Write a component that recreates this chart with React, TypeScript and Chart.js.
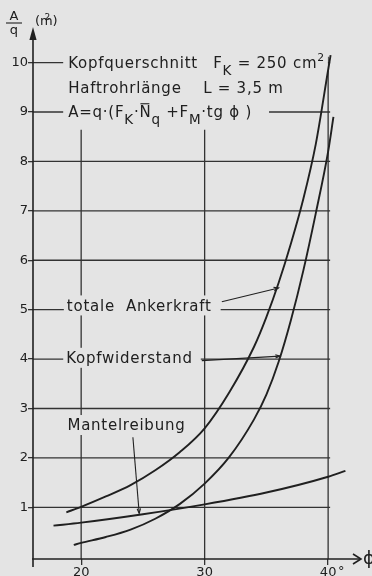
import React, { useEffect, useRef } from "react";
import { Chart, registerables } from "chart.js";

Chart.register(...registerables);

// ---------------- data ----------------
const totalPhi = [18.8, 20, 22, 24, 26, 28, 30, 32, 34, 35, 36, 37, 38, 39, 40, 40.2];
const totalA = [0.9, 1.01, 1.22, 1.45, 1.75, 2.12, 2.6, 3.33, 4.25, 4.85, 5.55, 6.35, 7.25, 8.35, 9.85, 10.15];

const kopfPhi = [19.4, 20, 22, 24, 26, 28, 30, 32, 34, 35, 36, 37, 38, 39, 40, 40.43];
const kopfA = [0.24, 0.28, 0.4, 0.55, 0.77, 1.07, 1.48, 2.02, 2.78, 3.28, 3.95, 4.8, 5.8, 6.95, 8.2, 8.9];

const mantelPhi = [17.76, 20, 25, 30, 35, 40, 41.4];
const mantelA = [0.63, 0.69, 0.86, 1.06, 1.3, 1.62, 1.74];

const xTickValues = [20, 30, 40];
const xTickLabels = ["20", "30", "40"];
const yTickValues = [1, 2, 3, 4, 5, 6, 7, 8, 9, 10];
const yTickLabels = ["1", "2", "3", "4", "5", "6", "7", "8", "9", "10"];

// vertical grid lines: where they stop (value on A/q axis)
const vGridTop = [8.64, 8.64, 10.12];

// ---------------- style ----------------
const BG = "#e4e4e4";
const INK = "#202020";
const GRID = "#333333";
const FONT = '"DejaVu Sans", sans-serif';
const TS = 15; // annotation text size
const LS = 0.75; // letter spacing

type Seg = { t: string; m?: "sub" | "sup" | "bar" };
type Part = { x: number; segs: Seg[] };
type Label = { parts: Part[]; y: number; padL: number; padR: number };

const labels: Label[] = [
  {
    parts: [
      { x: 18.95, segs: [{ t: "Kopfquerschnitt" }] },
      { x: 30.69, segs: [{ t: "F" }, { t: "K", m: "sub" }, { t: " = 250 cm" }, { t: "2", m: "sup" }] },
    ],
    y: 9.885, padL: 5, padR: 3,
  },
  {
    parts: [
      { x: 18.95, segs: [{ t: "Haftrohrlänge" }] },
      { x: 29.88, segs: [{ t: "L = 3,5 m" }] },
    ],
    y: 9.39, padL: 5, padR: 3,
  },
  {
    parts: [
      {
        x: 18.95,
        segs: [
          { t: "A=q·(F" }, { t: "K", m: "sub" }, { t: "·" }, { t: "N", m: "bar" },
          { t: "q", m: "sub" }, { t: " +F" }, { t: "M", m: "sub" }, { t: "·tg ϕ )" },
        ],
      },
    ],
    y: 8.9, padL: 5, padR: 17,
  },
  { parts: [{ x: 18.84, segs: [{ t: "totale  Ankerkraft" }] }], y: 4.98, padL: 3, padR: 9 },
  { parts: [{ x: 18.79, segs: [{ t: "Kopfwiderstand" }] }], y: 3.92, padL: 3, padR: 8 },
  { parts: [{ x: 18.89, segs: [{ t: "Mantelreibung" }] }], y: 2.56, padL: 3, padR: 4 },
];

// leader lines [x1, y1, x2, y2] in data units
const leaders = [
  [31.39, 5.16, 35.98, 5.44],
  [29.77, 3.97, 36.11, 4.06],
  [24.19, 2.42, 24.7, 0.88],
];

function drawRich(ctx: CanvasRenderingContext2D, segs: Seg[], x: number, y: number, draw: boolean) {
  let cx = x;
  for (const s of segs) {
    const fs = s.m === "sup" ? TS * 0.72 : s.m === "sub" ? TS * 0.9 : TS;
    ctx.font = `${fs}px ${FONT}`;
    (ctx as any).letterSpacing = `${LS}px`;
    const dy = s.m === "sub" ? TS * 0.45 : s.m === "sup" ? -TS * 0.5 : 0;
    const w = ctx.measureText(s.t).width;
    if (draw) {
      ctx.fillText(s.t, cx, y + dy);
      if (s.m === "bar") {
        ctx.beginPath();
        ctx.lineWidth = 1.1;
        ctx.moveTo(cx + 1, y - TS * 0.88);
        ctx.lineTo(cx + w - 2, y - TS * 0.88);
        ctx.stroke();
      }
    }
    cx += w;
  }
  return cx;
}

function arrowLine(ctx: CanvasRenderingContext2D, x1: number, y1: number, x2: number, y2: number) {
  ctx.beginPath();
  ctx.moveTo(x1, y1);
  ctx.lineTo(x2, y2);
  ctx.stroke();
  const a = Math.atan2(y2 - y1, x2 - x1);
  const L = 5;
  ctx.beginPath();
  ctx.moveTo(x2 - L * Math.cos(a - 0.35), y2 - L * Math.sin(a - 0.35));
  ctx.lineTo(x2, y2);
  ctx.lineTo(x2 - L * Math.cos(a + 0.35), y2 - L * Math.sin(a + 0.35));
  ctx.stroke();
}

const inkPlugin = {
  id: "ink",
  beforeDraw(chart: any) {
    const ctx = chart.ctx as CanvasRenderingContext2D;
    ctx.save();
    ctx.fillStyle = BG;
    ctx.fillRect(0, 0, chart.width, chart.height);
    ctx.restore();
  },
  beforeDatasetsDraw(chart: any) {
    const ctx = chart.ctx as CanvasRenderingContext2D;
    const xs = chart.scales.x;
    const ys = chart.scales.y;
    const X = (v: number) => xs.getPixelForValue(v);
    const Y = (v: number) => ys.getPixelForValue(v);
    const left = chart.chartArea.left;
    const bottom = chart.chartArea.bottom;
    ctx.save();
    ctx.strokeStyle = GRID;
    ctx.lineWidth = 1.3;
    // horizontal grid
    for (const v of yTickValues) {
      ctx.beginPath();
      ctx.moveTo(left, Y(v));
      ctx.lineTo(X(40) + 2, Y(v));
      ctx.stroke();
    }
    // vertical grid
    xTickValues.forEach((v, i) => {
      ctx.beginPath();
      ctx.moveTo(X(v), bottom);
      ctx.lineTo(X(v), Y(vGridTop[i]));
      ctx.stroke();
    });
    // axes
    ctx.strokeStyle = INK;
    ctx.fillStyle = INK;
    ctx.lineWidth = 1.6;
    ctx.beginPath();
    ctx.moveTo(left, bottom + 8);
    ctx.lineTo(left, chart.chartArea.top + 10);
    ctx.stroke();
    ctx.beginPath();
    ctx.moveTo(left, chart.chartArea.top - 1);
    ctx.lineTo(left - 3.6, chart.chartArea.top + 12);
    ctx.lineTo(left + 3.6, chart.chartArea.top + 12);
    ctx.closePath();
    ctx.fill();
    const xr = chart.chartArea.right + 2;
    ctx.beginPath();
    ctx.moveTo(left - 1, bottom);
    ctx.lineTo(xr, bottom);
    ctx.stroke();
    ctx.beginPath();
    ctx.moveTo(xr - 8, bottom - 5);
    ctx.lineTo(xr, bottom);
    ctx.lineTo(xr - 8, bottom + 5);
    ctx.stroke();

    // annotation labels
    ctx.textBaseline = "alphabetic";
    ctx.textAlign = "left";
    for (const lab of labels) {
      const by = Y(lab.y);
      let minX = Infinity;
      let maxX = -Infinity;
      for (const p of lab.parts) {
        const sx = X(p.x);
        const ex = drawRich(ctx, p.segs, sx, by, false);
        minX = Math.min(minX, sx);
        maxX = Math.max(maxX, ex);
      }
      ctx.fillStyle = BG;
      ctx.fillRect(minX - lab.padL, by - TS * 0.95 - 1, maxX - minX + lab.padL + lab.padR, TS * 1.2 + 2);
      ctx.fillStyle = INK;
      ctx.strokeStyle = INK;
      for (const p of lab.parts) drawRich(ctx, p.segs, X(p.x), by, true);
    }
    // leaders
    ctx.strokeStyle = INK;
    ctx.lineWidth = 1.1;
    for (const l of leaders) arrowLine(ctx, X(l[0]), Y(l[1]), X(l[2]), Y(l[3]));

    // degree sign after 40
    (ctx as any).letterSpacing = "0px";
    ctx.font = `13px ${FONT}`;
    ctx.fillStyle = INK;
    const w40 = ctx.measureText(xTickLabels[2]).width;
    ctx.textBaseline = "top";
    ctx.fillText("°", X(40) + w40 / 2 + 1.5, bottom + 6);
    // phi at the end of the x axis
    ctx.font = `18px ${FONT}`;
    ctx.textBaseline = "middle";
    ctx.fillText("ϕ", xr + 2, bottom);
    // y axis title A/q (m²)
    ctx.textBaseline = "alphabetic";
    ctx.textAlign = "center";
    ctx.font = `13px ${FONT}`;
    ctx.fillText("A", 14, 20);
    ctx.fillText("q", 14, 34);
    ctx.lineWidth = 1.1;
    ctx.beginPath();
    ctx.moveTo(6, 23);
    ctx.lineTo(22, 23);
    ctx.stroke();
    ctx.textAlign = "left";
    ctx.fillText("(m", 35, 25);
    ctx.fillText(")", 52.5, 25);
    ctx.font = `9px ${FONT}`;
    ctx.fillText("2", 44.5, 19.5);
    ctx.restore();
  },
};

export default function App() {
  const ref = useRef<HTMLCanvasElement | null>(null);
  useEffect(() => {
    if (!ref.current) return;
    const mk = (xs: number[], ys: number[]) => xs.map((x, i) => ({ x, y: ys[i] }));
    const line = (label: string, data: any[]) => ({
      label,
      data,
      borderColor: INK,
      borderWidth: 1.9,
      pointRadius: 0,
      fill: false,
      cubicInterpolationMode: "monotone" as const,
    });
    const chart = new Chart(ref.current, {
      type: "line",
      data: {
        datasets: [
          line("totale Ankerkraft", mk(totalPhi, totalA)),
          line("Kopfwiderstand", mk(kopfPhi, kopfA)),
          line("Mantelreibung", mk(mantelPhi, mantelA)),
        ],
      },
      options: {
        animation: false,
        responsive: false,
        devicePixelRatio: 1,
        layout: { padding: { left: 0, right: 13, top: 28, bottom: 0 } },
        plugins: { legend: { display: false }, tooltip: { enabled: false } },
        scales: {
          x: {
            type: "linear",
            min: 16.1,
            max: 42.5,
            afterBuildTicks: (s: any) => {
              s.ticks = xTickValues.map((v) => ({ value: v }));
            },
            afterFit: (s: any) => {
              s.height = 17;
            },
            ticks: {
              autoSkip: false,
              maxRotation: 0,
              padding: 0,
              color: INK,
              font: { family: FONT, size: 13 },
              callback: (v: any) => xTickLabels[xTickValues.indexOf(Number(v))] ?? "",
            },
            grid: { drawOnChartArea: false, drawTicks: true, tickLength: 6, color: GRID, lineWidth: 1.3 },
            border: { display: false },
          },
          y: {
            type: "linear",
            min: -0.045,
            max: 10.7,
            afterBuildTicks: (s: any) => {
              s.ticks = yTickValues.map((v) => ({ value: v }));
            },
            afterFit: (s: any) => {
              s.width = 33;
            },
            ticks: {
              padding: 0,
              color: INK,
              font: { family: FONT, size: 13 },
              callback: (v: any) => yTickLabels[yTickValues.indexOf(Number(v))] ?? "",
            },
            grid: { drawOnChartArea: false, drawTicks: true, tickLength: 5, color: GRID, lineWidth: 1.3 },
            border: { display: false },
          },
        },
      },
      plugins: [inkPlugin],
    });
    return () => chart.destroy();
  }, []);
  return (
    <div style={{ position: "fixed", left: 0, top: 0, width: 372, height: 576, background: BG }}>
      <canvas ref={ref} width={372} height={576} style={{ width: 372, height: 576, display: "block" }} />
    </div>
  );
}
